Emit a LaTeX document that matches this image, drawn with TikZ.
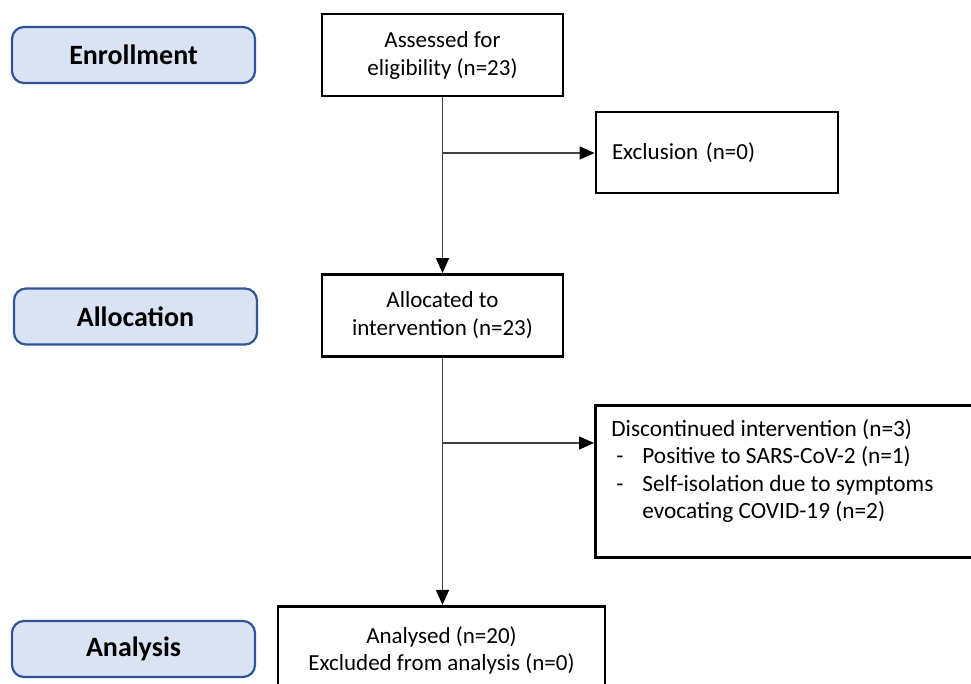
\documentclass[tikz,border=0pt]{standalone}
\usepackage{fontspec}
\setmainfont{Carlito}
\usetikzlibrary{arrows.meta}
\definecolor{stagefill}{RGB}{218,227,243}
\definecolor{stageline}{RGB}{47,85,151}
\begin{document}
\begin{tikzpicture}[x=1pt,y=-1pt,
  stage/.style={draw=stageline,fill=stagefill,line width=2.2pt,rounded corners=12pt,
    minimum width=243pt,minimum height=56pt,font=\fontsize{28}{32}\selectfont\bfseries},
  box/.style={draw,line width=2.8pt,minimum width=241pt,minimum height=82pt,
    align=center,font=\fontsize{23}{28}\selectfont},
  flow/.style={draw=black!75,line width=1.5pt,-{Triangle[length=15pt,width=13pt,color=black]}}]
  \useasboundingbox (0,0) rectangle (971,684);
  \clip (0,0) rectangle (971,684);
  \node[stage] (enroll) at (133.5,55) {Enrollment};
  \node[stage] (alloc) at (135.5,316.5) {Allocation};
  \node[stage] (analysis) at (133.5,649) {Analysis};
  \node[box] (assess) at (442.5,55) {Assessed for\\eligibility (n=23)};
  \node[box,minimum height=81pt,text width=210pt,align=left,inner xsep=16pt] (excl) at (717,152.5) {Exclusion (n=0)};
  \node[box] (allocd) at (442.5,315.5) {Allocated to\\intervention (n=23)};
  \node[box,anchor=north west,minimum width=0pt,minimum height=0pt,inner xsep=16pt,inner ysep=14pt,
    font=\fontsize{23.3}{27.5}\selectfont] (disc) at (594,404)
    {\parbox[t][124pt][t]{380pt}{Discontinued intervention (n=3)\\
      \makebox[31pt][l]{\hspace{5pt}-}Positive to SARS-CoV-2 (n=1)\\
      \makebox[31pt][l]{\hspace{5pt}-}Self-isolation due to symptoms\\
      \hspace*{31pt}evocating COVID-19 (n=2)}};
  \node[box,minimum width=327pt,minimum height=0pt,inner ysep=20pt,
    font=\fontsize{23}{27}\selectfont] (analysed) at (441.5,650) {Analysed (n=20)\\Excluded from analysis (n=0)};
  \coordinate (fork1) at (442.5,153);
  \coordinate (fork2) at (442.5,443);
  \draw[flow] (assess) -- (allocd);
  \draw[flow] (allocd.south) -- (allocd.south |- analysed.north);
  \draw[flow] (fork1) -- (excl.west |- fork1);
  \draw[flow] (fork2) -- (disc.west |- fork2);
\end{tikzpicture}
\end{document}
